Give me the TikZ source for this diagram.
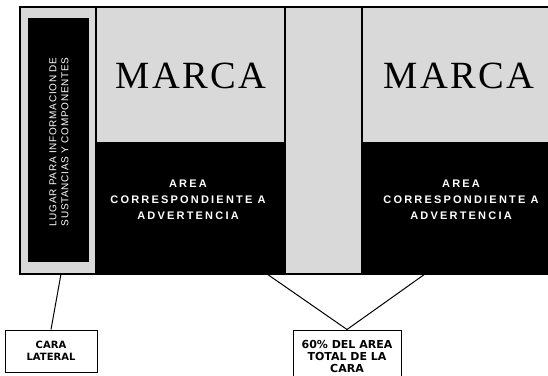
\documentclass[tikz,border=0pt]{standalone}
\usepackage{fontspec}
\setmainfont{Liberation Serif}
\setsansfont{Liberation Sans}
\newfontfamily\marcafont[LetterSpace=6]{Liberation Serif}
\newfontfamily\avisofont[LetterSpace=20]{Liberation Sans}
\newfontfamily\lateralfont[LetterSpace=7]{Liberation Sans}
\newfontfamily\cajafont{DejaVu Sans}
\tikzset{
  marca/.style={font=\marcafont\fontsize{38.5}{38.5}\selectfont},
  aviso/.style={text=white,align=center,font=\avisofont\bfseries\fontsize{11}{16}\selectfont},
  lugar/.style={text=white,align=center,rotate=90,font=\lateralfont\fontsize{10}{12}\selectfont},
  caja/.style={draw=black,line width=1pt,align=center,inner sep=0pt,font=\cajafont\bfseries\fontsize{10}{12.5}\selectfont},
  linea/.style={line width=1pt}
}

\begin{document}
\begin{tikzpicture}[x=1pt,y=-1pt]
    \useasboundingbox (0,0) rectangle (548,375);
    % envase
    \fill[black!15] (20,7) rectangle (552,274);
    \fill[black] (28,18) rectangle (89,262);
    \fill[black] (96,142) rectangle (285,274);
    \fill[black] (362,142) rectangle (552,274);
    \draw[line width=1.2pt] (552,7) -| (20,274) -- (552,274);
    \draw[line width=1.2pt] (96,7) -- (96,274);
    \draw[line width=1.2pt] (285,7) -- (285,274);
    \draw[line width=1.2pt] (362,7) -- (362,274);
    \node[lugar] (lugar) at (59,142) {LUGAR PARA INFORMACION DE\\SUSTANCIAS Y COMPONENTES};
    \node[marca] (marca1) at (191,76) {MARCA};
    \node[marca] (marca2) at (459,76) {MARCA};
    \node[aviso] (aviso1) at (188,200) {AREA\\CORRESPONDIENTE A\\ADVERTENCIA};
    \node[aviso] (aviso2) at (461,200) {AREA\\CORRESPONDIENTE A\\ADVERTENCIA};
    % rotulos
    \node[caja,minimum width=92pt,minimum height=42pt] (lateral) at (51,351) {CARA\\LATERAL};
    \node[caja,minimum width=108pt,minimum height=52pt,font=\cajafont\bfseries\fontsize{11}{12}\selectfont] (sesenta) at (347,356) {60\% DEL AREA\\TOTAL DE LA\\CARA};
    \coordinate (p1) at (61,274);
    \coordinate (p2) at (267,274);
    \coordinate (p3) at (425,274);
    \draw[linea] (p1) -- (lateral.north);
    \draw[linea] (p2) -- (sesenta.north) -- (p3);
\end{tikzpicture}
\end{document}
